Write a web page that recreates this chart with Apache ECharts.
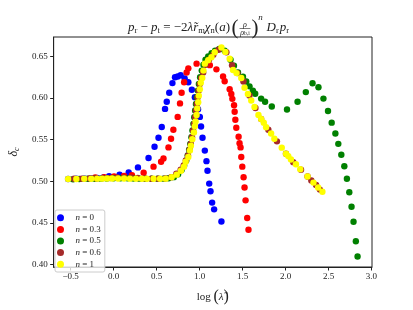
<!DOCTYPE html>
<html><head><meta charset="utf-8">
<script src="https://cdn.jsdelivr.net/npm/echarts@6/dist/echarts.min.js"></script>
<style>html,body{margin:0;padding:0;background:#fff}#c{width:413px;height:310px}</style>
</head><body><div id="c"></div>
<script>
var seriesNames = ['n = 0', 'n = 0.3', 'n = 0.5', 'n = 0.6', 'n = 1'];
var seriesColors = ['#0000ff', '#ff0000', '#008000', '#a52a2a', '#ffff00'];
var xTicks = [-0.5, 0.0, 0.5, 1.0, 1.5, 2.0, 2.5, 3.0];
var yTicks = [0.40, 0.45, 0.50, 0.55, 0.60, 0.65];

var n0 = [[-0.530,0.5028],[-0.434,0.5030],[-0.342,0.5034],[-0.261,0.5036],[-0.191,0.5040],[-0.120,0.5045],[-0.053,0.5060],[0.069,0.5080],[0.175,0.5105],[0.283,0.5167],[0.406,0.5280],[0.476,0.5415],[0.522,0.5523],[0.560,0.5653],[0.598,0.5870],[0.618,0.5956],[0.647,0.6064],[0.684,0.6180],[0.714,0.6250],[0.745,0.6260],[0.780,0.6275],[0.826,0.6237],[0.869,0.6190],[0.910,0.6100],[0.945,0.6010],[0.982,0.5867],[1.003,0.5774],[1.017,0.5659],[1.034,0.5523],[1.061,0.5369],[1.080,0.5242],[1.092,0.5126],[1.112,0.4972],[1.127,0.4880],[1.146,0.4744],[1.169,0.4663],[1.254,0.4516]];
var n03 = [[-0.214,0.5045],[-0.110,0.5050],[0.005,0.5057],[0.121,0.5063],[0.213,0.5074],[0.349,0.5103],[0.464,0.5176],[0.552,0.5234],[0.580,0.5273],[0.638,0.5407],[0.668,0.5512],[0.695,0.5620],[0.745,0.5774],[0.772,0.5936],[0.791,0.6064],[0.820,0.6191],[0.849,0.6307],[0.869,0.6357],[0.965,0.6414],[1.119,0.6396],[1.196,0.6345],[1.273,0.6260],[1.292,0.6203],[1.350,0.6107],[1.369,0.6049],[1.381,0.5991],[1.401,0.5913],[1.408,0.5836],[1.416,0.5740],[1.427,0.5644],[1.454,0.5535],[1.465,0.5458],[1.477,0.5407],[1.485,0.5292],[1.497,0.5176],[1.512,0.5049],[1.523,0.4926],[1.535,0.4771],[1.554,0.4559],[1.569,0.4417]];
var n05 = [[-0.472,0.5025],[-0.40,0.5028],[-0.30,0.5030],[-0.22,0.5030],[-0.15,0.5032],[-0.08,0.5034],[0.0,0.5036],[0.08,0.5036],[0.16,0.5036],[0.23,0.5034],[0.30,0.5032],[0.37,0.5030],[0.44,0.5030],[0.51,0.5030],[0.58,0.5032],[0.64,0.5036],[0.70,0.5050],[0.75,0.5085],[0.79,0.5135],[0.82,0.5190],[0.845,0.5250],[0.862,0.5310],[0.878,0.5380],[0.892,0.5450],[0.905,0.5530],[0.917,0.5610],[0.928,0.5690],[0.938,0.5770],[0.948,0.5850],[0.958,0.5930],[0.968,0.6010],[0.980,0.6090],[0.992,0.6170],[1.006,0.6250],[1.025,0.6330],[1.045,0.6400],[1.069,0.6461],[1.10,0.6500],[1.14,0.6540],[1.18,0.6570],[1.23,0.6590],[1.292,0.6570],[1.36,0.6460],[1.40,0.6390],[1.447,0.6307],[1.505,0.6257],[1.543,0.6199],[1.581,0.6141],[1.620,0.6090],[1.647,0.6052],[1.716,0.5994],[1.762,0.5956],[1.840,0.5898],[2.017,0.5863],[2.140,0.5956],[2.236,0.6072],[2.314,0.6179],[2.383,0.6130],[2.441,0.5994],[2.494,0.5844],[2.537,0.5705],[2.580,0.5574],[2.614,0.5450],[2.649,0.5319],[2.684,0.5181],[2.714,0.5030],[2.742,0.4868],[2.768,0.4694],[2.791,0.4513],[2.818,0.4280],[2.838,0.4096]];
var n06 = [[-0.46,0.5030],[-0.37,0.5030],[-0.28,0.5035],[-0.20,0.5035],[-0.12,0.5040],[-0.04,0.5040],[0.04,0.5045],[0.12,0.5045],[0.20,0.5045],[0.28,0.5040],[0.36,0.5035],[0.44,0.5030],[0.52,0.5030],[0.60,0.5035],[0.67,0.5050],[0.73,0.5090],[0.78,0.5140],[0.815,0.5190],[0.84,0.5250],[0.865,0.5310],[0.884,0.5380],[0.898,0.5450],[0.912,0.5530],[0.925,0.5610],[0.937,0.5690],[0.948,0.5770],[0.958,0.5850],[0.968,0.5930],[0.978,0.6010],[0.990,0.6090],[1.003,0.6170],[1.018,0.6240],[1.042,0.6307],[1.070,0.6400],[1.110,0.6460],[1.160,0.6520],[1.220,0.6580],[1.312,0.6550],[1.378,0.6396],[1.440,0.6300],[1.510,0.6200],[1.580,0.6030],[1.650,0.5880],[1.716,0.5748],[1.800,0.5620],[1.900,0.5480],[2.005,0.5331],[2.090,0.5230],[2.180,0.5140],[2.256,0.5057],[2.300,0.5010],[2.355,0.4955],[2.400,0.4900]];
var n1 = [[-0.530,0.5028],[-0.434,0.5028],[-0.342,0.5030],[-0.261,0.5030],[-0.191,0.5032],[-0.134,0.5032],[-0.076,0.5034],[-0.018,0.5034],[0.051,0.5034],[0.121,0.5034],[0.190,0.5032],[0.260,0.5032],[0.329,0.5030],[0.387,0.5030],[0.464,0.5030],[0.540,0.5030],[0.606,0.5032],[0.675,0.5049],[0.734,0.5080],[0.783,0.5126],[0.818,0.5176],[0.838,0.5234],[0.869,0.5292],[0.887,0.5369],[0.899,0.5427],[0.915,0.5505],[0.934,0.5586],[0.945,0.5662],[0.953,0.5720],[0.965,0.5797],[0.973,0.5875],[0.984,0.5951],[0.991,0.6029],[1.003,0.6106],[1.014,0.6183],[1.031,0.6241],[1.045,0.6330],[1.061,0.6414],[1.100,0.6454],[1.138,0.6492],[1.176,0.6550],[1.254,0.6608],[1.300,0.6555],[1.350,0.6472],[1.389,0.6338],[1.430,0.6300],[1.485,0.6241],[1.523,0.6125],[1.562,0.6049],[1.601,0.5971],[1.639,0.5894],[1.685,0.5797],[1.716,0.5748],[1.747,0.5705],[1.774,0.5650],[1.832,0.5574],[1.870,0.5512],[1.956,0.5404],[2.005,0.5331],[2.032,0.5303],[2.063,0.5262],[2.121,0.5204],[2.171,0.5146],[2.256,0.5057],[2.325,0.4984],[2.379,0.4926],[2.429,0.4875]];
var allData = [n0, n03, n05, n06, n1];

var SERIF = '"Liberation Serif", "DejaVu Serif", serif';
var INK = '#222';
var chart = echarts.init(document.getElementById('c'), null, {renderer: 'canvas'});
function fmtMinus(s) { return s.replace('-', '\u2212'); }

var series = seriesNames.map(function (nm, i) {
  return {
    name: nm, type: 'scatter', data: allData[i], symbol: 'circle', symbolSize: 6.4,
    itemStyle: {color: seriesColors[i], opacity: 1}, silent: true, z: 2 + i
  };
});

var subStyle = {fontFamily: SERIF, fontSize: 8.5, verticalAlign: 'bottom', lineHeight: 8, fill: INK};
var mainStyle = {fontFamily: SERIF, fontSize: 13, fontStyle: 'italic', verticalAlign: 'middle', lineHeight: 15, fill: INK};
var upStyle = {fontFamily: SERIF, fontSize: 13, verticalAlign: 'middle', lineHeight: 15, fill: INK};

chart.setOption({
  animation: false,
  backgroundColor: '#fff',
  grid: {left: 52, right: 41, top: 37, bottom: 35, show: true, borderColor: INK, borderWidth: 1, containLabel: false},
  xAxis: {
    type: 'value', min: -0.698, max: 3.006,
    axisLine: {show: true, onZero: false, lineStyle: {color: INK, width: 1}},
    axisTick: {show: true, length: 3.5, customValues: xTicks, lineStyle: {color: INK}},
    axisLabel: {customValues: xTicks, margin: 5, color: INK, fontFamily: SERIF, fontSize: 9,
      formatter: function (v) { return fmtMinus(v.toFixed(1)); }},
    splitLine: {show: false},
    name: 'log {p|(}{i|λ̃}{p|)}', nameLocation: 'middle', nameGap: 22,
    nameTextStyle: {color: INK, fontFamily: SERIF, fontSize: 11,
      rich: {p: {fontFamily: SERIF, fontSize: 16, color: INK}, i: {fontFamily: SERIF, fontSize: 11, fontStyle: 'italic', color: INK}}}
  },
  yAxis: {
    type: 'value', min: 0.397, max: 0.6734,
    axisLine: {show: true, onZero: false, lineStyle: {color: INK, width: 1}},
    axisTick: {show: true, length: 3.5, customValues: yTicks, lineStyle: {color: INK}},
    axisLabel: {customValues: yTicks, margin: 6, color: INK, fontFamily: SERIF, fontSize: 9,
      formatter: function (v) { return v.toFixed(2); }},
    splitLine: {show: false},
    name: '{i|δ}{s|c}', nameLocation: 'middle', nameGap: 19, nameRotate: 90,
    nameTextStyle: {color: INK, rich: {
      i: {fontFamily: SERIF, fontSize: 12, fontStyle: 'italic', color: INK, verticalAlign: 'middle', lineHeight: 14},
      s: {fontFamily: SERIF, fontSize: 8, fontStyle: 'italic', color: INK, verticalAlign: 'bottom', lineHeight: 8}}}
  },
  legend: {
    data: seriesNames, orient: 'vertical', left: 55, top: 210,
    icon: 'circle', itemWidth: 20, itemHeight: 7, itemGap: 0,
    padding: [2, 4, 2, 2], borderColor: '#cccccc', borderWidth: 1, borderRadius: 2,
    backgroundColor: 'rgba(255,255,255,0.8)',
    selectedMode: false,
    formatter: function (name) { return '{i|n}' + name.slice(1); },
    textStyle: {fontFamily: SERIF, fontSize: 9, color: INK, lineHeight: 11.6,
      rich: {i: {fontFamily: SERIF, fontSize: 9, fontStyle: 'italic', color: INK, lineHeight: 11.6}}}
  },
  graphic: [
    {type: 'text', x: 230, y: 27.5, silent: true, style: {
      text: '{m|p}{s|r}{u| − }{m|p}{s|t}{u| = −2}{m|λ̃r}{s|m}{m|χ}{s|n}{u|(}{m|a}{u|)}',
      align: 'right', verticalAlign: 'middle', fill: INK,
      rich: {m: mainStyle, u: upStyle, s: subStyle}}},
    {type: 'text', x: 235, y: 28.5, silent: true, style: {text: '(', font: '21px ' + SERIF, align: 'center', verticalAlign: 'middle', fill: INK}},
    {type: 'text', x: 245, y: 24.5, silent: true, style: {text: 'ρ', font: 'italic 8px ' + SERIF, align: 'center', verticalAlign: 'middle', fill: INK}},
    {type: 'line', silent: true, shape: {x1: 239.5, y1: 28.5, x2: 250.5, y2: 28.5}, style: {stroke: INK, lineWidth: 0.6}},
    {type: 'text', x: 245, y: 32.5, silent: true, style: {text: '{m|ρ}{s|b,i}', align: 'center', verticalAlign: 'middle', fill: INK,
      rich: {m: {fontFamily: SERIF, fontSize: 8, fontStyle: 'italic', verticalAlign: 'middle', lineHeight: 9, fill: INK}, s: {fontFamily: SERIF, fontSize: 5.5, verticalAlign: 'bottom', lineHeight: 5, fill: INK}}}},
    {type: 'text', x: 255, y: 28.5, silent: true, style: {text: ')', font: '21px ' + SERIF, align: 'center', verticalAlign: 'middle', fill: INK}},
    {type: 'text', x: 260.5, y: 18, silent: true, style: {text: 'n', font: 'italic 9px ' + SERIF, align: 'center', verticalAlign: 'middle', fill: INK}},
    {type: 'text', x: 266.5, y: 27.5, silent: true, style: {
      text: '{m|D}{s|r}{g| }{m|p}{s|r}', align: 'left', verticalAlign: 'middle', fill: INK,
      rich: {m: mainStyle, s: subStyle, g: {fontSize: 4, lineHeight: 4}}}}
  ],
  series: series
});
</script></body></html>
